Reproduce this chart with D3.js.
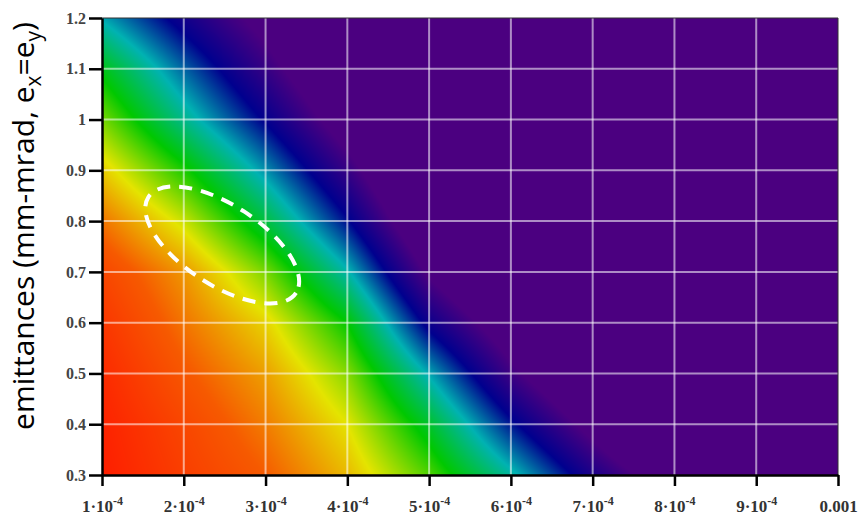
<!DOCTYPE html>
<html>
<head>
<meta charset="utf-8">
<script src="https://cdn.jsdelivr.net/npm/d3@7"></script>
<style>
body { margin: 0; background: #fff; }
</style>
</head>
<body>
<script>
var width = 863,
    height = 517;
var margin = {top: 18, right: 25, bottom: 42, left: 102};

// grid nodes of the map
var xGrid = [1e-4, 2e-4, 3e-4, 4e-4, 5e-4, 6e-4, 7e-4, 8e-4, 9e-4, 1e-3];
var yGrid = [0.3, 0.4, 0.5, 0.6, 0.7, 0.8, 0.9, 1, 1.1, 1.2];

// colour level read at each node (0 = red ... 1 = violet), one row per y value
var level = [
  [0.02, 0.10, 0.17, 0.28, 0.44, 0.65, 0.89, 1.10, 1.30, 1.30], // 0.3
  [0.03, 0.12, 0.21, 0.33, 0.54, 0.81, 1.05, 1.30, 1.30, 1.30], // 0.4
  [0.05, 0.16, 0.25, 0.40, 0.68, 0.97, 1.20, 1.30, 1.30, 1.30], // 0.5
  [0.08, 0.20, 0.31, 0.50, 0.86, 1.10, 1.30, 1.30, 1.30, 1.30], // 0.6
  [0.12, 0.24, 0.41, 0.66, 1.02, 1.25, 1.30, 1.30, 1.30, 1.30], // 0.7
  [0.20, 0.35, 0.56, 0.82, 1.15, 1.30, 1.30, 1.30, 1.30, 1.30], // 0.8
  [0.30, 0.48, 0.70, 0.95, 1.25, 1.30, 1.30, 1.30, 1.30, 1.30], // 0.9
  [0.41, 0.63, 0.84, 1.08, 1.30, 1.30, 1.30, 1.30, 1.30, 1.30], // 1.0
  [0.52, 0.74, 0.95, 1.18, 1.30, 1.30, 1.30, 1.30, 1.30, 1.30], // 1.1
  [0.68, 0.87, 1.05, 1.30, 1.30, 1.30, 1.30, 1.30, 1.30, 1.30]  // 1.2
];

var xTickLabels = ["1·10^-4", "2·10^-4", "3·10^-4", "4·10^-4", "5·10^-4",
                   "6·10^-4", "7·10^-4", "8·10^-4", "9·10^-4", "0.001"];

// dashed ellipse annotation (centre in data units)
var ellipseCenter = [2.47e-4, 0.753];

var levelStops = [0, 0.17, 0.33, 0.5, 0.67, 0.83, 1];
var levelColors = ["#ff1600", "#f65a00", "#e4e400", "#00c800", "#00b2b2", "#00008e", "#4b0080"];

var color = d3.scaleLinear()
              .domain(levelStops)
              .range(levelColors)
              .clamp(true);

var x = d3.scaleLinear()
          .domain([1e-4, 1e-3])
          .range([margin.left, width - margin.right]);
var y = d3.scaleLinear()
          .domain([0.3, 1.2])
          .range([height - margin.bottom, margin.top]);

// fractional grid index for a data value
var xi = d3.scaleLinear().domain([xGrid[0], xGrid[xGrid.length - 1]]).range([0, xGrid.length - 1]);
var yi = d3.scaleLinear().domain([yGrid[0], yGrid[yGrid.length - 1]]).range([0, yGrid.length - 1]);

function levelAt(vx, vy) {
  var fi = Math.max(0, Math.min(xGrid.length - 1.0001, xi(vx)));
  var fj = Math.max(0, Math.min(yGrid.length - 1.0001, yi(vy)));
  var i = Math.floor(fi), j = Math.floor(fj);
  var u = fi - i, v = fj - j;
  var a = level[j][i], b = level[j][i + 1],
      c = level[j + 1][i], d = level[j + 1][i + 1];
  return (a * (1 - u) + b * u) * (1 - v) + (c * (1 - u) + d * u) * v;
}

var svg = d3.select("body")
            .append("svg")
            .attr("width", width)
            .attr("height", height)
            .style("display", "block");

// density map painted into a canvas, then placed as image
var pw = width - margin.left - margin.right,
    ph = height - margin.top - margin.bottom;
var canvas = document.createElement("canvas");
canvas.width = pw;
canvas.height = ph;
var ctx = canvas.getContext("2d");
var img = ctx.createImageData(pw, ph);
for (var py = 0; py < ph; py++) {
  var vy = y.invert(margin.top + py + 0.5);
  for (var px = 0; px < pw; px++) {
    var vx = x.invert(margin.left + px + 0.5);
    var c = d3.rgb(color(levelAt(vx, vy)));
    var k = (py * pw + px) * 4;
    img.data[k] = c.r;
    img.data[k + 1] = c.g;
    img.data[k + 2] = c.b;
    img.data[k + 3] = 255;
  }
}
ctx.putImageData(img, 0, 0);

svg.append("image")
   .attr("x", margin.left)
   .attr("y", margin.top)
   .attr("width", pw)
   .attr("height", ph)
   .attr("preserveAspectRatio", "none")
   .attr("href", canvas.toDataURL());

// grid lines
svg.append("g")
   .selectAll("line")
   .data(xGrid.slice(1, -1))
   .enter()
   .append("line")
   .attr("x1", function(d) { return x(d); })
   .attr("x2", function(d) { return x(d); })
   .attr("y1", margin.top)
   .attr("y2", height - margin.bottom)
   .attr("stroke", "#fff")
   .attr("stroke-opacity", 0.55)
   .attr("stroke-width", 2);

svg.append("g")
   .selectAll("line")
   .data(yGrid.slice(1, -1))
   .enter()
   .append("line")
   .attr("x1", margin.left)
   .attr("x2", width - margin.right)
   .attr("y1", function(d) { return y(d); })
   .attr("y2", function(d) { return y(d); })
   .attr("stroke", "#fff")
   .attr("stroke-opacity", 0.55)
   .attr("stroke-width", 2);

// frame (top / right)
svg.append("path")
   .attr("d", "M" + margin.left + "," + margin.top + "H" + (width - margin.right) + "V" + (height - margin.bottom))
   .attr("fill", "none")
   .attr("stroke", "#333")
   .attr("stroke-width", 1);

// dashed ellipse
svg.append("ellipse")
   .attr("cx", 0)
   .attr("cy", 0)
   .attr("rx", 88)
   .attr("ry", 40)
   .attr("transform", "translate(" + x(ellipseCenter[0]) + "," + y(ellipseCenter[1]) + ") rotate(33)")
   .attr("fill", "none")
   .attr("stroke", "#fff")
   .attr("stroke-width", 4)
   .attr("stroke-dasharray", "13 9");

// axes
var xAxis = svg.append("g")
   .attr("transform", "translate(0," + (height - margin.bottom) + ")")
   .call(d3.axisBottom(x).tickValues(xGrid).tickSize(11).tickSizeOuter(0).tickFormat(""));

xAxis.selectAll(".tick")
   .append("text")
   .attr("y", 37)
   .attr("text-anchor", "middle")
   .attr("fill", "#333")
   .attr("font-family", "Liberation Serif, serif")
   .attr("font-size", "17px")
   .attr("font-weight", "bold")
   .each(function(d, i) {
      var parts = xTickLabels[i].split("^");
      var t = d3.select(this);
      t.append("tspan").text(parts[0]);
      if (parts[1]) {
        t.append("tspan")
         .attr("dy", -7)
         .attr("font-size", "12px")
         .text(parts[1]);
      }
   });

var yAxis = svg.append("g")
   .attr("transform", "translate(" + margin.left + ",0)")
   .call(d3.axisLeft(y).tickValues(yGrid).tickSize(13).tickSizeOuter(0).tickFormat(d3.format("")));

yAxis.selectAll("text")
   .attr("fill", "#444")
   .attr("font-family", "Liberation Serif, serif")
   .attr("font-size", "16px")
   .attr("font-weight", "bold");

svg.selectAll(".domain, .tick line")
   .attr("stroke", "#000")
   .attr("stroke-width", 2.5);

// y axis title
var title = svg.append("text")
   .attr("transform", "translate(34,226) rotate(-90)")
   .attr("text-anchor", "middle")
   .attr("font-family", "Open Sans, sans-serif")
   .attr("font-size", "30px")
   .attr("fill", "#000");
title.append("tspan").text("emittances (mm-mrad, e");
title.append("tspan").attr("dy", 7).attr("font-size", "21px").text("x");
title.append("tspan").attr("dy", -7).text("=e");
title.append("tspan").attr("dy", 7).attr("font-size", "21px").text("y");
title.append("tspan").attr("dy", -7).text(")");
</script>
</body>
</html>
